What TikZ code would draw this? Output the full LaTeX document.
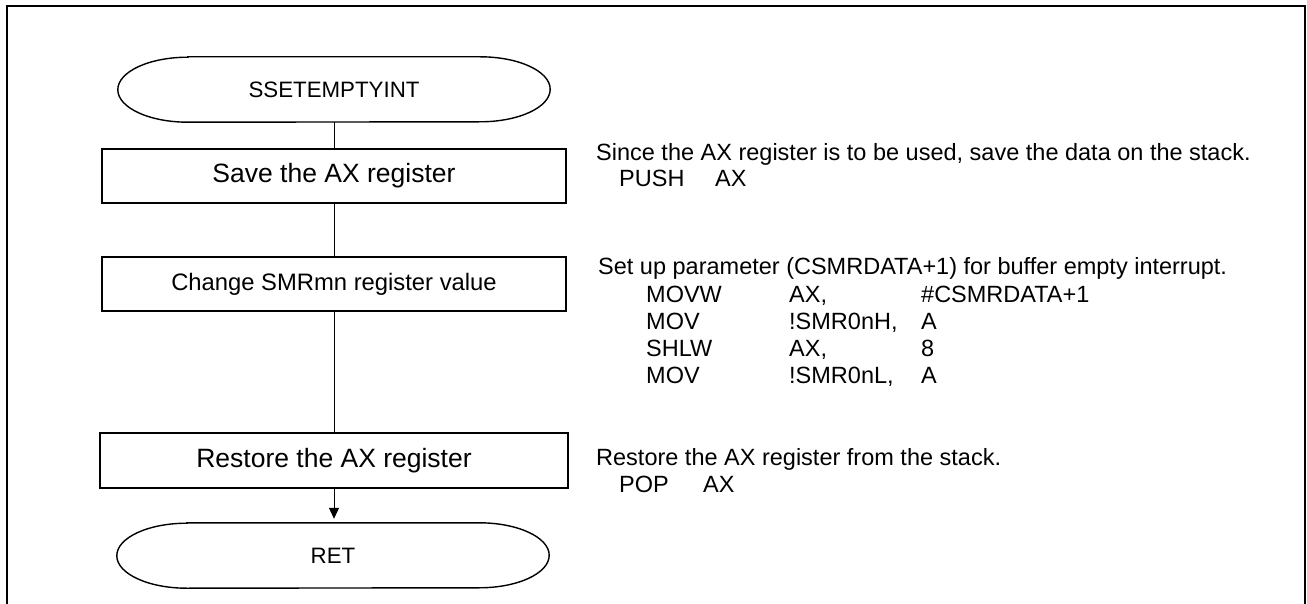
\documentclass[tikz,border=0pt]{standalone}
\usepackage{fontspec}
\setmainfont{Liberation Sans}
\usetikzlibrary{arrows.meta}
\newcommand\termoutline[1]{\draw[termline] ([xshift=70pt]#1.north west) -- ([xshift=-70pt]#1.north east) arc[start angle=90,end angle=-90,x radius=70pt,y radius=32.5pt] -- ([xshift=70pt]#1.south west) arc[start angle=270,end angle=90,x radius=70pt,y radius=32.5pt] -- cycle;}
\begin{document}
\begin{tikzpicture}[x=1pt,y=-1pt,
 frame/.style={line width=2.4pt},
 procbox/.style={draw,line width=1.7pt,minimum height=54pt,inner sep=0pt},
 termnode/.style={minimum width=432pt,minimum height=65pt,inner sep=0pt,font=\fontsize{22.3}{26}\selectfont},
 termline/.style={line width=1.4pt},
 conn/.style={line width=1pt},
 note/.style={anchor=base west,inner sep=0pt,font=\fontsize{23.5}{27}\selectfont},
 bigtxt/.style={font=\fontsize{26.5}{30}\selectfont},
 midtxt/.style={font=\fontsize{23.8}{28}\selectfont}]
\useasboundingbox (0,0) rectangle (1307,604);
\draw[frame] (7,604) -- (7,6) -- (1305,6) -- (1305,604);

\node[termnode] (s) at (334,89.5) {SSETEMPTYINT};
\node[procbox,bigtxt,minimum width=464pt] (b1) at (334,176) {Save the AX register};
\node[procbox,midtxt,minimum width=464pt] (b2) at (334,284) {Change SMRmn register value};
\node[procbox,bigtxt,minimum width=468pt,minimum height=55pt] (b3) at (334,460.5) {Restore the AX register};
\node[termnode] (r) at (333,555.5) {RET};
\termoutline{s}
\termoutline{r}

\draw[conn] (s.south) -- (s.south |- b1.north);
\draw[conn] (b1.south) -- (b1.south |- b2.north);
\draw[conn] (b2.south) -- (b2.south |- b3.north);
\draw[conn,-{Triangle[length=11pt,width=10pt]},shorten >=4pt] (b3.south) -- (b3.south |- r.north);

\node[note] (n1) at (596,161) {Since the AX register is to be used, save the data on the stack.};
\node[note] (n2) at (619,187) {\makebox[96pt][l]{PUSH}AX};
\node[note] (n3) at (598,275) {Set up parameter (CSMRDATA+1) for buffer empty interrupt.};
\node[note] (n4) at (646,302) {\makebox[143pt][l]{MOVW}\makebox[132pt][l]{AX,}\#CSMRDATA+1};
\node[note] (n5) at (646,329) {\makebox[143pt][l]{MOV}\makebox[132pt][l]{!SMR0nH,}A};
\node[note] (n6) at (646,356) {\makebox[143pt][l]{SHLW}\makebox[132pt][l]{AX,}8};
\node[note] (n7) at (646,383) {\makebox[143pt][l]{MOV}\makebox[132pt][l]{!SMR0nL,}A};
\node[note] (n8) at (596,465) {Restore the AX register from the stack.};
\node[note] (n9) at (619,492) {\makebox[84pt][l]{POP}AX};
\end{tikzpicture}
\end{document}
